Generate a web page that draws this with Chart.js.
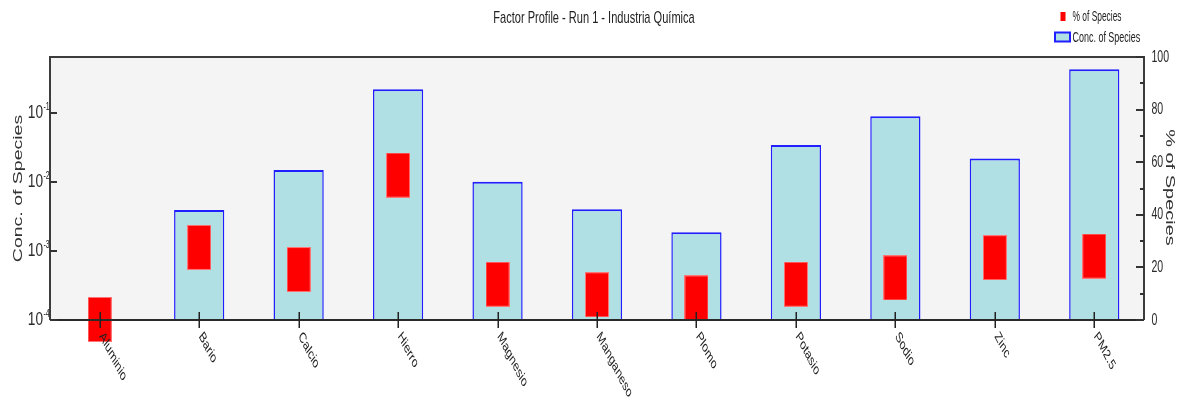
<!DOCTYPE html>
<html>
<head>
<meta charset="utf-8">
<title>Factor Profile - Run 1 - Industria Química</title>
<script src="https://cdn.jsdelivr.net/npm/chart.js@4.4.1/dist/chart.umd.min.js"></script>
<style>
  html, body { margin: 0; padding: 0; background: #ffffff; }
  #wrap { width: 1185px; height: 401px; position: relative; }
</style>
</head>
<body>
<div id="wrap"><canvas id="chart"></canvas></div>
<script>
// ---- data ----
const species = ['Aluminio', 'Bario', 'Calcio', 'Hierro', 'Magnesio', 'Manganeso', 'Plomo', 'Potasio', 'Sodio', 'Zinc', 'PM2.5'];
const concOfSpecies = [null, 0.00388, 0.0147, 0.217, 0.00996, 0.00401, 0.00185, 0.0340, 0.0885, 0.0217, 0.423];
const percentOfSpecies = [0.2, 27.6, 19.2, 55.1, 13.6, 9.6, 8.4, 13.6, 16.0, 23.7, 24.3];
const concTicks = [1e-4, 1e-3, 1e-2, 1e-1];
const concTickExponents = ['-4', '-3', '-2', '-1'];
const percentMajorTicks = [0, 20, 40, 60, 80, 100];

const chartTitle = 'Factor Profile - Run 1 - Industria Química';
const concLabel = 'Conc. of Species';
const percentLabel = '% of Species';

const FONT = '"Liberation Sans", Arial, sans-serif';

// ---- text helper: draws horizontally condensed / rotated text ----
function drawText(ctx, s, x, y, o) {
  ctx.save();
  ctx.translate(x, y);
  if (o.sx) ctx.scale(o.sx, 1);
  if (o.rot) ctx.rotate(o.rot);
  if (o.sy) ctx.scale(1, o.sy);
  ctx.font = o.font;
  ctx.fillStyle = o.color || '#222';
  ctx.textAlign = o.align || 'left';
  ctx.textBaseline = o.base || 'alphabetic';
  ctx.fillText(s, 0, 0);
  ctx.restore();
}

// red marker used for "% of Species"
const marker = document.createElement('canvas');
marker.width = 24; marker.height = 45;
(function () {
  const m = marker.getContext('2d');
  m.fillStyle = '#ff0000';
  m.fillRect(0, 0, 24, 45);
  m.strokeStyle = 'rgba(255,130,130,0.9)';
  m.lineWidth = 1;
  m.strokeRect(0.5, 0.5, 23, 44);
})();

const frame = {
  id: 'frame',
  beforeDatasetsDraw(chart) {
    const { ctx, chartArea: a } = chart;
    ctx.save();
    ctx.fillStyle = '#f4f4f4';
    ctx.fillRect(a.left, a.top, a.right - a.left, a.bottom - a.top);
    ctx.restore();
  },
  afterDatasetsDraw(chart) {
    const { ctx, chartArea: a, scales } = chart;
    const xs = scales.x, yl = scales.y, yr = scales.y1;
    ctx.save();

    // plot frame
    ctx.strokeStyle = '#3c3c3c';
    ctx.lineWidth = 2;
    ctx.beginPath();
    ctx.moveTo(a.left, a.bottom);
    ctx.lineTo(a.left, a.top);
    ctx.lineTo(a.right, a.top);
    ctx.lineTo(a.right, a.bottom);
    ctx.stroke();
    ctx.strokeStyle = '#2a2a2a';
    ctx.beginPath();
    ctx.moveTo(a.left, a.bottom);
    ctx.lineTo(a.right, a.bottom);
    ctx.stroke();

    // category ticks crossing the axis
    ctx.strokeStyle = '#222';
    ctx.lineWidth = 1.5;
    species.forEach((name, i) => {
      const x = Math.round(xs.getPixelForTick(i)) + 0.25;
      ctx.beginPath();
      ctx.moveTo(x, a.bottom - 8);
      ctx.lineTo(x, a.bottom + 8);
      ctx.stroke();
    });

    // left (log) ticks, inward
    ctx.lineWidth = 2;
    ctx.strokeStyle = '#333';
    concTicks.forEach(v => {
      const y = Math.round(yl.getPixelForValue(v));
      ctx.beginPath();
      ctx.moveTo(a.left, y);
      ctx.lineTo(a.left + 7, y);
      ctx.stroke();
    });

    // right (percent) ticks, inward; majors longer
    yr.ticks.forEach(t => {
      const y = Math.round(yr.getPixelForValue(t.value));
      const len = percentMajorTicks.includes(t.value) ? 8 : 4;
      ctx.beginPath();
      ctx.moveTo(a.right, y);
      ctx.lineTo(a.right - len, y);
      ctx.stroke();
    });
    ctx.restore();

    // left tick labels: 10 with superscript exponent
    concTicks.forEach((v, i) => {
      const y = yl.getPixelForValue(v);
      drawText(ctx, '10', a.left - 7, y, { font: '19px ' + FONT, sx: 0.72, align: 'right', base: 'middle', color: '#2a2a2a' });
      drawText(ctx, concTickExponents[i], a.left - 6.5, y - 3, { font: '10.5px ' + FONT, sx: 0.66, align: 'left', base: 'alphabetic', color: '#222' });
    });

    // right tick labels
    yr.ticks.forEach(t => {
      if (!percentMajorTicks.includes(t.value)) return;
      const y = yr.getPixelForValue(t.value);
      drawText(ctx, String(t.value), a.right + 7.5, y, { font: '17px ' + FONT, sx: 0.62, align: 'left', base: 'middle', color: '#2a2a2a' });
    });

    // category labels, slanted downward
    species.forEach((name, i) => {
      const x = xs.getPixelForTick(i);
      drawText(ctx, name, x + 1.5, a.bottom + 14, { font: '15px ' + FONT, sx: 0.66, rot: 52 * Math.PI / 180, align: 'left', base: 'middle', color: '#222' });
    });

    // axis titles
    drawText(ctx, concLabel, 18.5, (a.top + a.bottom) / 2, { font: '19.5px ' + FONT, rot: -Math.PI / 2, sy: 0.64, align: 'center', base: 'middle', color: '#333' });
    drawText(ctx, percentLabel, 1170, (a.top + a.bottom) / 2 - 1, { font: '20px ' + FONT, rot: Math.PI / 2, sy: 0.64, align: 'center', base: 'middle', color: '#333' });

    // chart title
    drawText(ctx, chartTitle, 594, 23, { font: '17px ' + FONT, sx: 0.65, align: 'center', color: '#222' });

    // legend
    ctx.save();
    ctx.fillStyle = '#ff0000';
    ctx.fillRect(1060.5, 12, 5, 9);
    ctx.fillStyle = '#b0dfe4';
    ctx.fillRect(1055, 32.5, 15, 9);
    ctx.strokeStyle = '#1f1fff';
    ctx.lineWidth = 2;
    ctx.strokeRect(1055, 32.5, 15, 9);
    ctx.restore();
    drawText(ctx, percentLabel, 1072.5, 21, { font: '14px ' + FONT, sx: 0.6, color: '#222' });
    drawText(ctx, concLabel, 1072.5, 41.5, { font: '14px ' + FONT, sx: 0.64, color: '#222' });
  }
};

new Chart(document.getElementById('chart'), {
  type: 'bar',
  data: {
    labels: species,
    datasets: [
      {
        type: 'line',
        label: percentLabel,
        data: percentOfSpecies,
        yAxisID: 'y1',
        showLine: false,
        pointStyle: marker,
        clip: false,
        order: 0
      },
      {
        type: 'bar',
        label: concLabel,
        data: concOfSpecies,
        yAxisID: 'y',
        backgroundColor: '#b0dfe4',
        borderColor: '#1f1fff',
        borderWidth: { top: 2, left: 1.5, right: 1.5, bottom: 0 },
        borderSkipped: 'start',
        barPercentage: 0.505,
        categoryPercentage: 1.0,
        order: 1
      }
    ]
  },
  options: {
    responsive: true,
    maintainAspectRatio: false,
    animation: false,
    events: [],
    layout: { padding: { top: 57, left: 0, right: 0, bottom: 0 } },
    plugins: {
      legend: { display: false },
      title: { display: false },
      tooltip: { enabled: false }
    },
    scales: {
      x: {
        type: 'category',
        offset: true,
        grid: { display: false },
        border: { display: false },
        ticks: { display: false },
        afterFit(s) { s.height = 81; }
      },
      y: {
        type: 'logarithmic',
        position: 'left',
        min: 1e-4,
        max: 0.635,
        bounds: 'data',
        grid: { display: false },
        border: { display: false },
        ticks: { display: false },
        afterBuildTicks(s) { s.ticks = concTicks.map(v => ({ value: v })); },
        afterFit(s) { s.width = 50; }
      },
      y1: {
        type: 'linear',
        position: 'right',
        min: 0,
        max: 100,
        grid: { display: false },
        border: { display: false },
        ticks: { display: false, stepSize: 10 },
        afterFit(s) { s.width = 41; }
      }
    }
  },
  plugins: [frame]
});
</script>
</body>
</html>
